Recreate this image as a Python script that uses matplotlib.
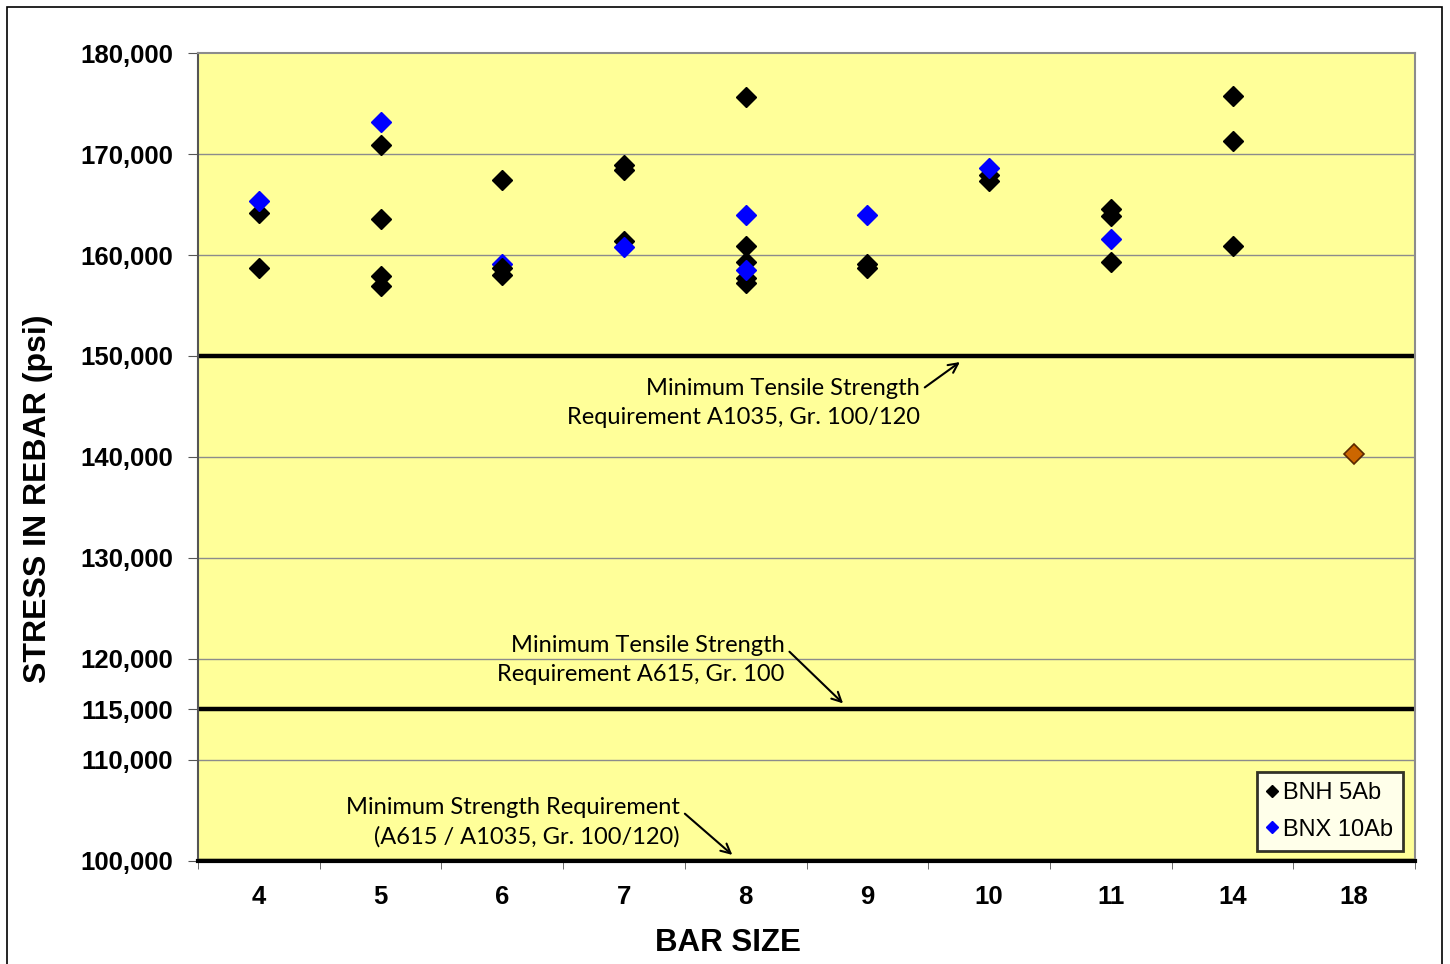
import matplotlib.pyplot as plt
import matplotlib.patches as patches
import numpy as np

# bar sizes (categories)
bar_sizes = ['4', '5', '6', '7', '8', '9', '10', '11', '14', '18']

# BNH 5Ab results (category index, stress psi)
bnh_x = [0, 0,
         1, 1, 1, 1,
         2, 2, 2,
         3, 3, 3,
         4, 4, 4, 4, 4,
         5, 5,
         6, 6,
         7, 7, 7,
         8, 8, 8]
bnh_y = [164200, 158700,
         170900, 163600, 157900, 156900,
         167400, 158700, 158000,
         168900, 168400, 161400,
         175600, 160900, 159300, 157700, 157200,
         159100, 158700,
         167900, 167300,
         164600, 163900, 159300,
         175700, 171300, 160900]

# BNX 10Ab results
bnx_x = [0, 1, 2, 3, 4, 4, 5, 6, 7]
bnx_y = [165300, 173200, 159100, 160800, 164000, 158500, 164000, 168600, 161600]

# bar 18 result
other_x = [9]
other_y = [140300]

# required strengths
req_lines = [150000, 115000, 100000]

y_ticks = [100000, 110000, 115000, 120000, 130000, 140000, 150000, 160000, 170000, 180000]
grid_vals = [110000, 120000, 130000, 140000, 160000, 170000]

plt.rcParams['font.family'] = ['Liberation Sans', 'DejaVu Sans']

fig = plt.figure(figsize=(14.5, 9.64), dpi=100)
ax = fig.add_axes([0.1366, 0.1069, 0.8393, 0.8381])
ax.set_facecolor('#FFFF99')

for g in grid_vals:
    ax.axhline(g, color='#8C8C8C', lw=1.0, zorder=1)
for r in req_lines:
    ax.axhline(r, color='black', lw=3.2, zorder=2)

# bar 6 BNX point sits underneath the BNH points
ax.plot(bnx_x[2:3], bnx_y[2:3], 'D', color='#0000FF', ms=10, mec='#0000FF', ls='none', zorder=3)
ax.plot(bnh_x, bnh_y, 'D', color='black', ms=10, mec='black', ls='none', zorder=4, label='BNH 5Ab')
ax.plot(bnx_x[:2] + bnx_x[3:], bnx_y[:2] + bnx_y[3:], 'D', color='#0000FF', ms=10,
        mec='#0000FF', ls='none', zorder=5, label='BNX 10Ab')
ax.plot(other_x, other_y, 'D', color='#CC6600', ms=10, mec='#5A2800', mew=1.2, ls='none', zorder=5)

ax.set_xlim(-0.5, len(bar_sizes) - 0.5)
ax.set_ylim(100000, 180000)
ax.set_xticks(range(len(bar_sizes)))
ax.set_xticklabels(bar_sizes, fontsize=18.5, fontweight='bold')
ax.set_xticks(np.arange(-0.5, len(bar_sizes), 1.0), minor=True)
ax.tick_params(axis='x', which='major', length=0, pad=17)
ax.tick_params(axis='x', which='minor', length=6, color='#555555', direction='out')
ax.set_yticks(y_ticks)
ax.set_yticklabels(['{:,}'.format(v) for v in y_ticks], fontsize=18.5, fontweight='bold')
ax.tick_params(axis='y', length=7, color='#555555', direction='out', pad=11)

for s in ['top', 'right']:
    ax.spines[s].set_color('#8C8C8C')
    ax.spines[s].set_linewidth(1.5)
ax.spines['left'].set_color('#555555')
ax.spines['left'].set_linewidth(1.5)
ax.spines['bottom'].set_color('black')
ax.spines['bottom'].set_linewidth(3)

ax.set_xlabel('BAR SIZE', fontsize=22.5, fontweight='bold')
ax.xaxis.set_label_coords(0.4355, -0.083)
ax.set_ylabel('STRESS IN REBAR (psi)', fontsize=23, fontweight='bold')
ax.yaxis.set_label_coords(-0.119, 0.448)

note_font = dict(fontsize=17, family=['Lato', 'DejaVu Sans'], ha='right', va='center',
                 multialignment='right', linespacing=1.45)
ax.annotate('Minimum Tensile Strength\nRequirement A1035, Gr. 100/120',
            xy=(5.76, 149400), xytext=(5.43, 145350), **note_font,
            arrowprops=dict(arrowstyle='->', color='black', lw=1.5, shrinkA=2, shrinkB=0,
                            relpos=(1.0, 0.74)))
ax.annotate('Minimum Tensile Strength\nRequirement A615, Gr. 100',
            xy=(4.80, 115600), xytext=(4.32, 119900), **note_font,
            arrowprops=dict(arrowstyle='->', color='black', lw=1.5, shrinkA=2, shrinkB=0,
                            relpos=(1.0, 0.76)))
ax.annotate('Minimum Strength Requirement\n(A615 / A1035, Gr. 100/120)',
            xy=(3.89, 100600), xytext=(3.46, 103800), **note_font,
            arrowprops=dict(arrowstyle='->', color='black', lw=1.5, shrinkA=2, shrinkB=0,
                            relpos=(1.0, 0.76)))

leg = ax.legend(loc='lower right', bbox_to_anchor=(0.9905, 0.012), fontsize=17,
                markerscale=0.6, handlelength=0.4, handletextpad=0.25,
                frameon=True, fancybox=False, borderpad=0.45, labelspacing=0.6,
                borderaxespad=0)
leg.get_frame().set_edgecolor('black')
leg.get_frame().set_linewidth(2)
leg.get_frame().set_facecolor('white')

# outer chart border
fig.patches.append(patches.Rectangle((7 / 1450, -0.01), 1435 / 1450, 957 / 964 + 0.01,
                                     transform=fig.transFigure, fill=False,
                                     edgecolor='black', lw=1.2))

fig.savefig('out.png', dpi=100)
